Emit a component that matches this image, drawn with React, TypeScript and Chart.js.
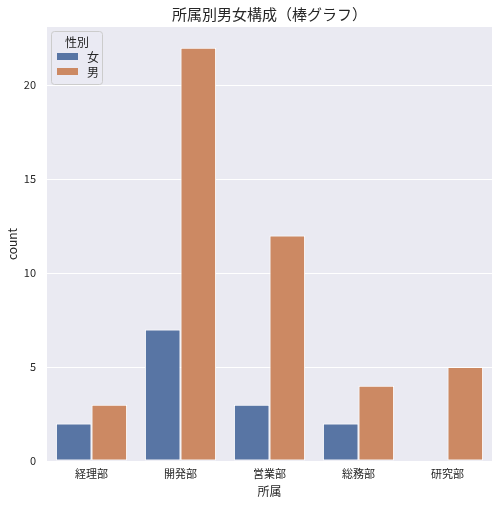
import React, { useEffect, useRef } from "react";
import { Chart, registerables } from "chart.js";

Chart.register(...registerables);

const categories = ["経理部", "開発部", "営業部", "総務部", "研究部"];
const femaleCounts = [2, 7, 3, 2, 0];
const maleCounts = [3, 22, 12, 4, 5];
const seriesLabels = ["女", "男"];
const yTicks = [0, 5, 10, 15, 20];

const FONT = "'Noto Sans CJK JP', 'Noto Sans', sans-serif";
const TEXT = "#262626";
const BLUE = "#5875A4";
const ORANGE = "#CC8963";

const bgPlugin = {
  id: "bgPlugin",
  beforeDraw(chart: any) {
    const { ctx, chartArea } = chart;
    ctx.save();
    ctx.fillStyle = "#EAEAF2";
    ctx.fillRect(chartArea.left, chartArea.top, chartArea.right - chartArea.left, chartArea.bottom - chartArea.top);
    ctx.restore();
  },
  afterDraw(chart: any) {
    const { ctx, chartArea } = chart;
    ctx.save();
    // title
    ctx.fillStyle = TEXT;
    ctx.font = `15px ${FONT}`;
    ctx.textAlign = "center";
    ctx.textBaseline = "middle";
    ctx.fillText("所属別男女構成（棒グラフ）", (chartArea.left + chartArea.right) / 2, 14);

    // legend
    const lx = chartArea.left + 4;
    const ly = chartArea.top + 4;
    const lw = 51;
    const lh = 53;
    ctx.beginPath();
    if ((ctx as any).roundRect) (ctx as any).roundRect(lx + 0.5, ly + 0.5, lw, lh, 3);
    else ctx.rect(lx + 0.5, ly + 0.5, lw, lh);
    ctx.fillStyle = "rgba(234,234,242,0.8)";
    ctx.fill();
    ctx.strokeStyle = "#CCCCCC";
    ctx.lineWidth = 1;
    ctx.stroke();

    ctx.fillStyle = TEXT;
    ctx.font = `12px ${FONT}`;
    ctx.textAlign = "center";
    ctx.fillText("性別", lx + lw / 2 + 0.5, ly + 11);

    const ds = chart.data.datasets;
    ds.forEach((d: any, i: number) => {
      const py = ly + 25 + i * 15;
      ctx.fillStyle = d.backgroundColor;
      ctx.fillRect(lx + 6, py - 3, 21, 7);
      ctx.fillStyle = TEXT;
      ctx.font = `12px ${FONT}`;
      ctx.textAlign = "left";
      ctx.fillText(d.label, lx + 36, py + 1);
    });
    ctx.restore();
  },
};

export default function App() {
  const ref = useRef<HTMLCanvasElement | null>(null);
  useEffect(() => {
    document.body.style.margin = "0";
    const chart = new Chart(ref.current as HTMLCanvasElement, {
      type: "bar",
      data: {
        labels: categories,
        datasets: [
          {
            label: seriesLabels[0],
            data: femaleCounts,
            backgroundColor: BLUE,
            borderColor: "#FFFFFF",
            borderWidth: 1,
            borderSkipped: false,
            categoryPercentage: 0.8,
            barPercentage: 1.0,
          },
          {
            label: seriesLabels[1],
            data: maleCounts,
            backgroundColor: ORANGE,
            borderColor: "#FFFFFF",
            borderWidth: 1,
            borderSkipped: false,
            categoryPercentage: 0.8,
            barPercentage: 1.0,
          },
        ],
      },
      options: {
        animation: false,
        responsive: false,
        maintainAspectRatio: false,
        layout: { padding: { top: 27, right: 7, left: 0, bottom: 0 } },
        plugins: {
          legend: { display: false },
          title: { display: false },
          tooltip: { enabled: false },
        },
        scales: {
          x: {
            grid: { display: false, drawTicks: false },
            border: { display: false },
            ticks: { color: TEXT, font: { family: FONT, size: 11 }, padding: 6, maxRotation: 0 },
            title: {
              display: true,
              text: "所属",
              color: TEXT,
              font: { family: FONT, size: 12 },
              padding: { top: 0, bottom: 6 },
            },
            afterFit: (s: any) => {
              s.height = 44;
            },
          },
          y: {
            min: 0,
            max: 23.1,
            grid: { color: "#FFFFFF", lineWidth: 1, drawTicks: false },
            border: { display: false },
            afterBuildTicks: (s: any) => {
              s.ticks = yTicks.map((v) => ({ value: v }));
            },
            ticks: { color: TEXT, font: { family: FONT, size: 11 }, padding: 11 },
            title: {
              display: true,
              text: "count",
              color: TEXT,
              font: { family: FONT, size: 12 },
              padding: { top: 5, bottom: 0 },
            },
            afterFit: (s: any) => {
              s.width = 47;
            },
          },
        },
      },
      plugins: [bgPlugin],
    });
    return () => chart.destroy();
  }, []);
  return (
    <div style={{ position: "fixed", left: 0, top: 0, width: 499, height: 505, background: "#FFFFFF" }}>
      <canvas ref={ref} width={499} height={505} style={{ width: 499, height: 505, display: "block" }} />
    </div>
  );
}
